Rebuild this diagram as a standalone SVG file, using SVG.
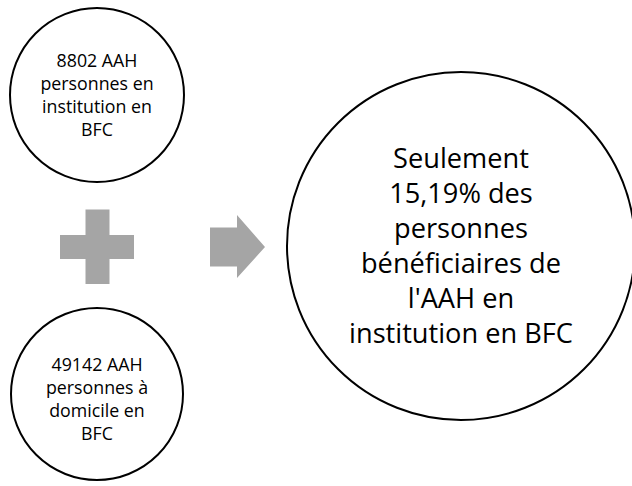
<svg xmlns="http://www.w3.org/2000/svg" width="632" height="486" viewBox="0 0 632 486">
<style>
.node{fill:#FFFFFF;stroke:#000000;stroke-width:2}
.op{fill:#A5A5A5}
.t{font-family:"Open Sans","Noto Sans","Liberation Sans",sans-serif;fill:#000000;text-anchor:middle}
.s{font-size:17.8px}
.b{font-size:27.2px}
</style>
<rect width="632" height="486" fill="#FFFFFF"/>
<g id="node-institution">
<circle class="node" cx="97" cy="95" r="87"/>
<text class="t s" x="97"><tspan x="97" y="67">8802 AAH</tspan><tspan x="97" y="90">personnes en</tspan><tspan x="97" y="113">institution en</tspan><tspan x="97" y="136">BFC</tspan></text>
</g>
<g id="node-plus">
<path class="op" d="M85.5 209.5H109.5V235H134V259H109.5V284H85.5V259H60V235H85.5Z"/>
</g>
<g id="node-domicile">
<circle class="node" cx="97" cy="394" r="86"/>
<text class="t s" x="97"><tspan x="97" y="371">49142 AAH</tspan><tspan x="97" y="394">personnes à</tspan><tspan x="97" y="417">domicile en</tspan><tspan x="97" y="440">BFC</tspan></text>
</g>
<g id="connectors">
<path class="op" d="M210 227.5H237V215L265 247L237 278V266.5H210Z"/>
</g>
<g id="node-result">
<circle class="node" cx="461" cy="246" r="174"/>
<text class="t b" x="461"><tspan x="461" y="168">Seulement</tspan><tspan x="461" y="203">15,19% des</tspan><tspan x="461" y="238">personnes</tspan><tspan x="461" y="273">bénéficiaires de</tspan><tspan x="461" y="308">l'AAH en</tspan><tspan x="461" y="343">institution en BFC</tspan></text>
</g>
</svg>
